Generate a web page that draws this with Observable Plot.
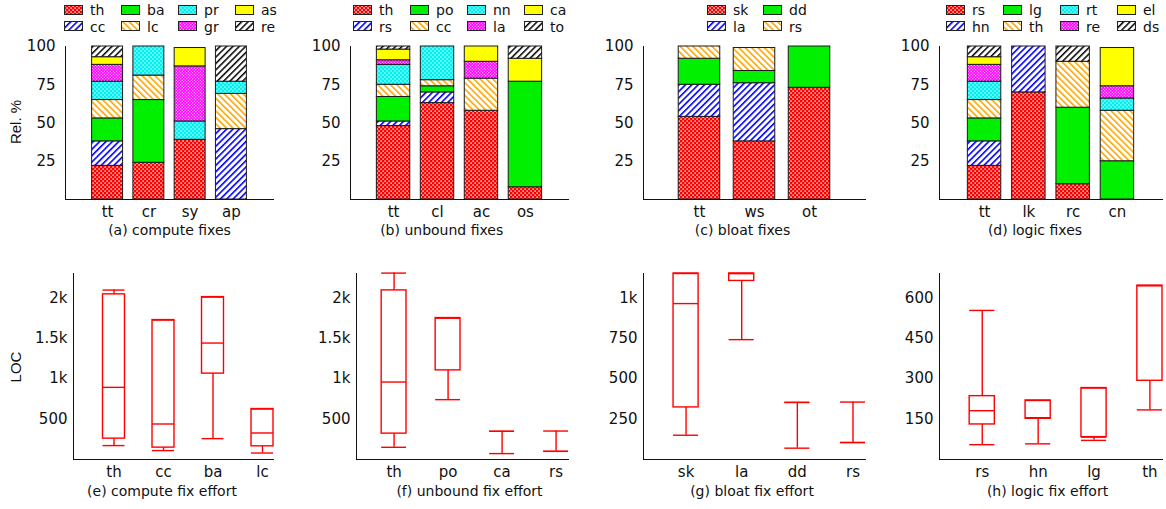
<!DOCTYPE html>
<html><head><meta charset="utf-8">
<script src="https://cdn.jsdelivr.net/npm/d3@7"></script>
<script src="https://cdn.jsdelivr.net/npm/@observablehq/plot@0.6"></script>
<style>
body{margin:0;background:#fff}
#root{position:relative;width:1166px;height:509px;overflow:hidden;font-family:"DejaVu Sans",sans-serif;color:#111;background:#fff}
.pan{position:absolute}
.pan svg{overflow:visible}
.ttl{position:absolute;width:240px;text-align:center;font-size:14px;line-height:14px;white-space:nowrap}
.yl{position:absolute;font-family:"Liberation Sans",Arial,sans-serif;font-size:15px;line-height:16px;white-space:nowrap;transform:translate(-50%,-50%) rotate(-90deg)}
.lg{position:absolute;font-size:14px;line-height:16px;white-space:nowrap}
.lg svg{position:absolute;left:0;top:2.5px}
.lg span{position:absolute;left:26px;top:0}
</style></head><body>
<svg width="0" height="0" style="position:absolute">
<defs>
<pattern id="pRed" patternUnits="userSpaceOnUse" width="4" height="4">
<rect width="4" height="4" fill="#ff0000"/>
<rect x="0.4" y="0.4" width="1.4" height="1.4" fill="#fff"/>
<rect x="2.4" y="2.4" width="1.4" height="1.4" fill="#fff"/>
</pattern>
<pattern id="pCyan" patternUnits="userSpaceOnUse" width="4" height="4">
<rect width="4" height="4" fill="#00f0f0"/>
<rect x="0.4" y="0.4" width="1.2" height="1.2" fill="#fff"/>
<rect x="2.4" y="2.4" width="1.2" height="1.2" fill="#fff"/>
</pattern>
<pattern id="pMag" patternUnits="userSpaceOnUse" width="3" height="3">
<rect width="3" height="3" fill="#ff00ff"/>
<rect x="0.3" y="0.3" width="1" height="1" fill="#fff"/>
<rect x="1.8" y="1.8" width="1" height="1" fill="#fff"/>
</pattern>
<pattern id="pBlue" patternUnits="userSpaceOnUse" width="4.5" height="4.5" patternTransform="rotate(45)">
<rect width="4.5" height="4.5" fill="#fff"/>
<rect width="1.6" height="4.5" fill="#0000ff"/>
</pattern>
<pattern id="pOrange" patternUnits="userSpaceOnUse" width="4.5" height="4.5" patternTransform="rotate(-45)">
<rect width="4.5" height="4.5" fill="#fff"/>
<rect width="1.6" height="4.5" fill="#ffa500"/>
</pattern>
<pattern id="pBlack" patternUnits="userSpaceOnUse" width="4.5" height="4.5" patternTransform="rotate(45)">
<rect width="4.5" height="4.5" fill="#fff"/>
<rect width="1.5" height="4.5" fill="#000"/>
</pattern>
</defs>
</svg>
<div id="root"></div>
<script>
// ---------- data: stacked relative bars ----------
const topTicks = [25, 50, 75, 100];

// (a) compute fixes
const aCats = ["tt", "cr", "sy", "ap"];
const aKeys = ["th", "cc", "ba", "lc", "pr", "gr", "as", "re"];
const aTT = [22, 16, 15, 12, 12, 11, 5, 7];
const aCR = [24, 0, 41, 16, 19, 0, 0, 0];
const aSY = [39, 0, 0, 0, 12, 36, 12, 0];
const aAP = [0, 46, 0, 23, 8, 0, 0, 23];

// (b) unbound fixes
const bCats = ["tt", "cl", "ac", "os"];
const bKeys = ["th", "rs", "po", "cc", "nn", "la", "ca", "to"];
const bTT = [48, 3, 16, 8, 13, 3, 7, 2];
const bCL = [63, 7, 4, 4, 22, 0, 0, 0];
const bAC = [58, 0, 0, 21, 0, 11, 10, 0];
const bOS = [8, 0, 69, 0, 0, 0, 15, 8];

// (c) bloat fixes
const cCats = ["tt", "ws", "ot"];
const cKeys = ["sk", "la", "dd", "rs"];
const cTT = [54, 21, 17, 8];
const cWS = [38, 38, 8, 15];
const cOT = [73, 0, 27, 0];

// (d) logic fixes
const dCats = ["tt", "lk", "rc", "cn"];
const dKeys = ["rs", "hn", "lg", "th", "rt", "re", "el", "ds"];
const dTT = [22, 16, 15, 12, 12, 11, 5, 7];
const dLK = [70, 30, 0, 0, 0, 0, 0, 0];
const dRC = [10, 0, 50, 30, 0, 0, 0, 10];
const dCN = [0, 0, 25, 33, 8, 8, 25, 0];

// ---------- data: effort box plots (LOC) ----------
const eCats = ["th", "cc", "ba", "lc"];
const eMin = [172, 110, 258, 80];
const eQ1 = [258, 147, 1062, 163];
const eMed = [892, 439, 1440, 328];
const eQ3 = [2042, 1724, 2008, 624];
const eMax = [2095, 1724, 2008, 624];
const eTicks = [500, 1000, 1500, 2000];
const eTickLabels = ["500", "1k", "1.5k", "2k"];

const fCats = ["th", "po", "ca", "rs"];
const fMin = [151, 740, 73, 101];
const fQ1 = [320, 1102, 349, 101];
const fMed = [958, 1749, 349, 101];
const fQ3 = [2091, 1749, 349, 101];
const fMax = [2305, 1749, 349, 352];
const fTicks = [500, 1000, 1500, 2000];
const fTickLabels = ["500", "1k", "1.5k", "2k"];

const gCats = ["sk", "la", "dd", "rs"];
const gMin = [150, 741, 70, 105];
const gQ1 = [322, 1104, 353, 105];
const gMed = [964, 1150, 353, 105];
const gQ3 = [1150, 1150, 353, 105];
const gMax = [1150, 1150, 353, 355];
const gTicks = [250, 500, 750, 1000];
const gTickLabels = ["250", "500", "750", "1k"];

const hCats = ["rs", "hn", "lg", "th"];
const hMin = [55, 58, 71, 184];
const hQ1 = [130, 151, 83, 292];
const hMed = [181, 155, 83, 645];
const hQ3 = [235, 219, 265, 645];
const hMax = [553, 219, 265, 645];
const hTicks = [150, 300, 450, 600];
const hTickLabels = ["150", "300", "450", "600"];

const titles = ["(a) compute fixes", "(b) unbound fixes", "(c) bloat fixes", "(d) logic fixes",
  "(e) compute fix effort", "(f) unbound fix effort", "(g) bloat fix effort", "(h) logic fix effort"];

// ---------- styles ----------
const fills = ["url(#pRed)", "url(#pBlue)", "#00f000", "url(#pOrange)", "url(#pCyan)", "url(#pMag)", "#ffff00", "url(#pBlack)"];
const boxRed = "#ff0000";
const font = {fontFamily: "DejaVu Sans, sans-serif", fontSize: "15px", color: "#111", background: "none", overflow: "visible"};

const root = document.getElementById("root");
function place(el, left, top) {
  const d = document.createElement("div");
  d.className = "pan"; d.style.left = left + "px"; d.style.top = top + "px";
  d.appendChild(el); root.appendChild(d);
}
function addTitle(text, cx, top) {
  const d = document.createElement("div");
  d.className = "ttl"; d.textContent = text;
  d.style.left = (cx - 120) + "px"; d.style.top = top + "px";
  root.appendChild(d);
}
function addYLabel(text, cx, cy) {
  const d = document.createElement("div");
  d.className = "yl"; d.textContent = text;
  d.style.left = cx + "px"; d.style.top = cy + "px";
  root.appendChild(d);
}
function addLegend(keys, x0, pitch) {
  keys.forEach((k, i) => {
    const d = document.createElement("div");
    d.className = "lg";
    d.style.left = (x0 + Math.floor(i / 2) * pitch) + "px";
    d.style.top = (2 + (i % 2) * 16.5) + "px";
    d.innerHTML = `<svg width="20" height="11"><rect x="0.5" y="0.5" width="18" height="9" fill="${fills[i]}" stroke="#222" stroke-width="1"/></svg><span>${k}</span>`;
    root.appendChild(d);
  });
}

function stacked(cats, keys, rows, g) {
  const data = [];
  cats.forEach((c, i) => keys.forEach((k, j) => { if (rows[i][j] > 0) data.push({cat: c, key: k, v: rows[i][j]}); }));
  return Plot.plot({
    width: g.w, height: 215, marginLeft: g.ml, marginRight: g.mr, marginTop: 16, marginBottom: 46,
    style: font,
    x: {type: "band", domain: cats, paddingInner: g.pi, paddingOuter: g.po, align: 0.5, round: false,
        tickSize: 0, tickPadding: 7, line: true, label: null},
    y: {domain: [0, 100], ticks: topTicks, tickSize: 0, tickPadding: 10, line: true, label: null},
    color: {type: "ordinal", domain: keys, range: fills.slice(0, keys.length)},
    marks: [
      Plot.barY(data, {x: "cat", y: "v", fill: "key", order: keys, stroke: "#1a1a1a", strokeWidth: 1})
    ]
  });
}

function boxes(cats, mn, q1, md, q3, mx, ticks, labels, yMax, g) {
  const data = cats.map((c, i) => ({cat: c, min: mn[i], q1: q1[i], med: md[i], q3: q3[i], max: mx[i]}));
  const s = {stroke: boxRed, strokeWidth: 1.4};
  return Plot.plot({
    width: g.w, height: 247, marginLeft: g.ml, marginRight: g.mr, marginTop: 11, marginBottom: 50,
    style: font,
    x: {type: "band", domain: cats, paddingInner: g.pi, paddingOuter: g.po, align: 1, round: false,
        tickSize: 0, tickPadding: 7, line: true, label: null},
    y: {domain: [0, yMax], ticks: ticks, tickFormat: d => labels[ticks.indexOf(d)],
        tickSize: 0, tickPadding: 6, line: true, label: null},
    marks: [
      Plot.ruleX(data, {x: "cat", y1: "min", y2: "q1", ...s}),
      Plot.ruleX(data, {x: "cat", y1: "q3", y2: "max", ...s}),
      Plot.barY(data, {x: "cat", y1: "q1", y2: "q3", fill: "none", ...s}),
      Plot.tickY(data, {x: "cat", y: "med", ...s}),
      Plot.tickY(data, {x: "cat", y: "min", ...s}),
      Plot.tickY(data, {x: "cat", y: "max", ...s})
    ]
  });
}

// top row
place(stacked(aCats, aKeys, [aTT, aCR, aSY, aAP], {w: 290, ml: 65, mr: 17, pi: 0.25, po: 0.645}), 0, 30);
place(stacked(bCats, bKeys, [bTT, bCL, bAC, bOS], {w: 290, ml: 60, mr: 12, pi: 0.24, po: 0.6}), 290, 30);
place(stacked(cCats, cKeys, [cTT, cWS, cOT], {w: 290, ml: 63, mr: 5, pi: 0.245, po: 0.64}), 580, 30);
place(stacked(dCats, dKeys, [dTT, dLK, dRC, dCN], {w: 296, ml: 69, mr: 4, pi: 0.245, po: 0.64}), 870, 30);

addLegend(aKeys, 64, 57);
addLegend(bKeys, 353, 57);
addLegend(cKeys, 707, 56);
addLegend(dKeys, 946, 57);

// bottom row
place(boxes(eCats, eMin, eQ1, eMed, eQ3, eMax, eTicks, eTickLabels, 2300, {w: 290, ml: 73, mr: 17, pi: 0.556, po: 0.298}), 0, 262);
place(boxes(fCats, fMin, fQ1, fMed, fQ3, fMax, fTicks, fTickLabels, 2300, {w: 290, ml: 66, mr: 12, pi: 0.54, po: 0.233}), 290, 262);
place(boxes(gCats, gMin, gQ1, gMed, gQ3, gMax, gTicks, gTickLabels, 1150, {w: 290, ml: 63, mr: 5, pi: 0.55, po: 0.27}), 580, 262);
place(boxes(hCats, hMin, hQ1, hMed, hQ3, hMax, hTicks, hTickLabels, 690, {w: 296, ml: 69, mr: 4, pi: 0.55, po: 0.27}), 870, 262);

// titles & y labels
const tx = [169.5, 441.7, 742.5, 1035, 162, 469.5, 752, 1047.5];
titles.forEach((t, i) => addTitle(t, tx[i], i < 4 ? 223 : 484));
addYLabel("Rel. %", 16, 122);
addYLabel("LOC", 16, 367);
</script>
</body></html>
